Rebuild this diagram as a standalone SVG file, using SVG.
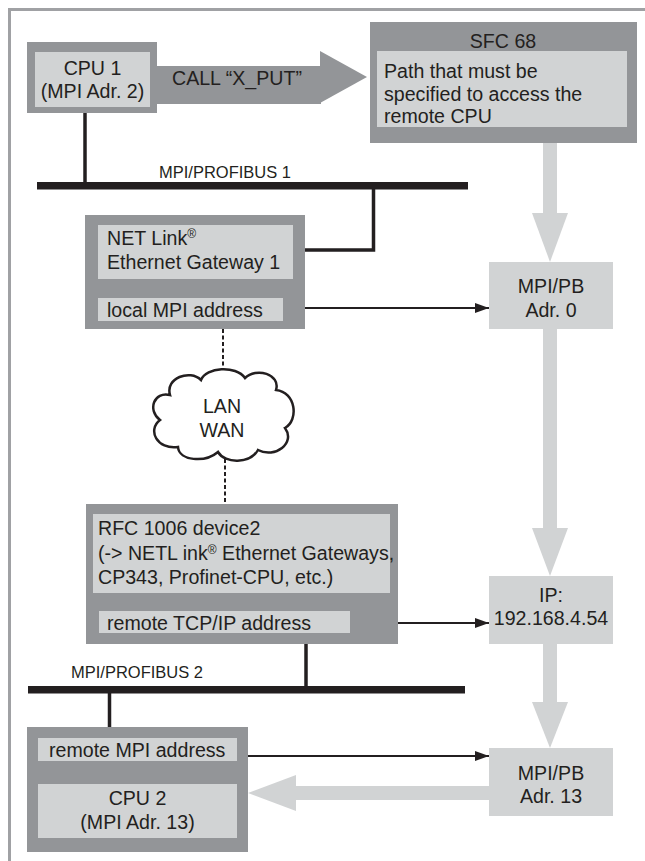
<svg xmlns="http://www.w3.org/2000/svg" width="645" height="861" viewBox="0 0 645 861">
<defs>
<style>
.dk{fill:#939598}
.lt{fill:#d1d3d4}
.t{font-family:"Liberation Sans",Arial,sans-serif;font-size:19.6px;fill:#231f20}
.m{text-anchor:middle}
.bl{font-size:16.5px}
.bus{fill:#231f20}
.wire{stroke:#231f20;stroke-width:3.5;fill:none}
.ptr{stroke:#231f20;stroke-width:2;fill:none;marker-end:url(#ah)}
.dash{stroke:#231f20;stroke-width:2;stroke-dasharray:4 2.5;fill:none}
.sup{font-size:12px}
</style>
<marker id="ah" markerUnits="userSpaceOnUse" markerWidth="14" markerHeight="10" refX="14" refY="5" orient="auto">
<path d="M0,0 L14,5 L0,10 Z" fill="#231f20"/>
</marker>
</defs>
<rect width="645" height="861" fill="#ffffff"/>
<path d="M9.5,861 V9.5 H645" fill="none" stroke="#a0a1a4" stroke-width="3"/>

<g id="connectors">
  <g id="call-arrow">
    <rect class="dk" x="157" y="66" width="164" height="38"/>
    <polygon class="dk" points="320,51 367,77 320,103"/>
    <text class="t" x="172" y="85" font-size="19">CALL “X_PUT”</text>
  </g>
  <rect class="lt" x="543" y="127" width="14" height="87"/>
  <polygon class="lt" points="532,213 568,213 550,262"/>
  <rect class="lt" x="543" y="329" width="14" height="200"/>
  <polygon class="lt" points="532,528 568,528 550,576"/>
  <rect class="lt" x="543" y="644" width="14" height="59"/>
  <polygon class="lt" points="532,702 568,702 550,748"/>
  <rect class="lt" x="295" y="786" width="194" height="14"/>
  <polygon class="lt" points="296,775 248,793 296,811"/>
  <line class="wire" x1="85" y1="113" x2="85" y2="183"/>
  <polyline class="wire" points="373.5,189 373.5,250 305,250"/>
  <line class="wire" x1="306" y1="644" x2="306" y2="687"/>
  <line class="wire" x1="109.5" y1="692" x2="109.5" y2="727"/>
  <line class="ptr" x1="283" y1="308" x2="489" y2="308"/>
  <line class="ptr" x1="350" y1="623" x2="489" y2="623"/>
  <line class="ptr" x1="237" y1="756" x2="489" y2="756"/>
  <line class="dash" x1="223" y1="329" x2="223" y2="373"/>
  <line class="dash" x1="225" y1="459" x2="225" y2="504"/>
</g>

<g id="cpu1">
  <rect class="dk" x="27" y="42" width="130" height="71"/>
  <rect class="lt" x="35" y="52" width="115" height="55"/>
  <text class="t m" x="92.5" y="75">CPU 1</text>
  <text class="t m" x="92.5" y="98">(MPI Adr. 2)</text>
</g>

<g id="sfc68">
  <rect class="dk" x="370" y="22" width="267" height="121"/>
  <rect class="lt" x="377" y="51" width="250" height="76"/>
  <text class="t m" x="503" y="48">SFC 68</text>
  <text class="t" x="384" y="78">Path that must be</text>
  <text class="t" x="384" y="101">specified to access the</text>
  <text class="t" x="384" y="123">remote CPU</text>
</g>

<g id="bus1">
  <rect class="bus" x="37" y="182" width="431" height="7.5"/>
  <text class="t bl" x="159" y="178">MPI/PROFIBUS 1</text>
</g>

<g id="netlink1">
  <rect class="dk" x="85" y="215" width="220" height="114"/>
  <rect class="lt" x="98" y="225" width="195" height="54"/>
  <text class="t" x="107" y="245">NET Link<tspan class="sup" dy="-7">®</tspan></text>
  <text class="t" x="107" y="269">Ethernet Gateway 1</text>
  <rect class="lt" x="98" y="298" width="185" height="23"/>
  <text class="t" x="107" y="317">local MPI address</text>
</g>

<g id="mpipb0">
  <rect class="lt" x="489" y="262" width="124" height="67"/>
  <text class="t m" x="551" y="293">MPI/PB</text>
  <text class="t m" x="551" y="317">Adr. 0</text>
</g>

<g id="cloud">
  <path d="M170,395 C165,378 190,369 201,380 C206,367 236,365 245,378 C256,367 281,374 276,390 C296,392 299,420 285,428 C296,443 275,459 258,450 C250,464 225,464 218,452 C205,463 179,461 178,447 C157,450 147,430 160,420 C147,410 154,391 170,395 Z" fill="#ffffff" stroke="#231f20" stroke-width="2.5"/>
  <text class="t m" x="222" y="413">LAN</text>
  <text class="t m" x="222" y="437">WAN</text>
</g>

<g id="rfc-device">
  <rect class="dk" x="86" y="504" width="312" height="140"/>
  <rect class="lt" x="93" y="514" width="297" height="79"/>
  <text class="t" x="98" y="535">RFC 1006 device2</text>
  <text class="t" x="98" y="560" font-size="18.3">(-&gt; NETL ink<tspan class="sup" dy="-6">®</tspan><tspan dy="6"> Ethernet Gateways,</tspan></text>
  <text class="t" x="98" y="584">CP343, Profinet-CPU, etc.)</text>
  <rect class="lt" x="99" y="611" width="251" height="22"/>
  <text class="t" x="107" y="630">remote TCP/IP address</text>
</g>

<g id="ip">
  <rect class="lt" x="489" y="576" width="124" height="68"/>
  <text class="t m" x="551" y="602">IP:</text>
  <text class="t m" x="551" y="625">192.168.4.54</text>
</g>

<g id="bus2">
  <rect class="bus" x="28" y="686" width="437" height="7.5"/>
  <text class="t bl" x="71" y="678">MPI/PROFIBUS 2</text>
</g>

<g id="cpu2">
  <rect class="dk" x="27" y="727" width="221" height="125"/>
  <rect class="lt" x="38" y="738" width="199" height="23"/>
  <text class="t" x="49" y="757">remote MPI address</text>
  <rect class="lt" x="38" y="784" width="199" height="54"/>
  <text class="t m" x="137.5" y="805">CPU 2</text>
  <text class="t m" x="137.5" y="829">(MPI Adr. 13)</text>
</g>

<g id="mpipb13">
  <rect class="lt" x="489" y="748" width="124" height="68"/>
  <text class="t m" x="551" y="780">MPI/PB</text>
  <text class="t m" x="551" y="803">Adr. 13</text>
</g>
</svg>
